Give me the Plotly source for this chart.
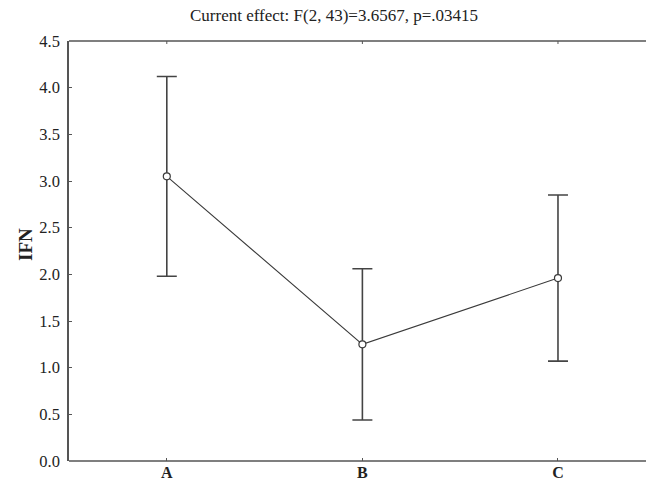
import plotly.graph_objects as go

# Group means of IFN with their error-bar half widths
groups = ["A", "B", "C"]
ifn_mean = [3.05, 1.25, 1.96]
ifn_err = [1.07, 0.81, 0.89]
y_ticks = [0.0, 0.5, 1.0, 1.5, 2.0, 2.5, 3.0, 3.5, 4.0, 4.5]

serif = "Liberation Serif, Times New Roman, serif"
axis_col = "#555555"
x_pos = list(range(len(groups)))

fig = go.Figure()
fig.add_trace(go.Scatter(
    x=x_pos,
    y=ifn_mean,
    mode="lines+markers",
    line=dict(color="#3a3a3a", width=1.1),
    marker=dict(symbol="circle", size=7, color="white",
                line=dict(color="#3a3a3a", width=1.2)),
    error_y=dict(type="data", array=ifn_err, visible=True,
                 color="#444444", thickness=1.6, width=10),
    showlegend=False,
))

# frame: bottom and top lines running off the right edge of the figure
frame = [
    dict(type="line", xref="paper", yref="paper", x0=0, x1=1.05, y0=yy, y1=yy,
         line=dict(color=axis_col, width=1.5), layer="above")
    for yy in (0, 1)
]
# inward ticks on the top edge, one per group
top_ticks = [
    dict(type="line", xref="x", yref="paper", x0=xp, x1=xp, y0=1, y1=1 - 3 / 420,
         line=dict(color=axis_col, width=1), layer="above")
    for xp in x_pos
]

fig.update_layout(
    width=646, height=488,
    margin=dict(l=69, r=0, t=41, b=27, pad=0),
    paper_bgcolor="white", plot_bgcolor="white",
    font=dict(family=serif, color="#222222", size=14),
    title=dict(text="Current effect: F(2, 43)=3.6567, p=.03415",
               font=dict(family=serif, size=17, color="#222222"),
               x=334 / 646, xanchor="center", y=1 - 15 / 488, yanchor="middle",
               xref="container", yref="container"),
    xaxis=dict(
        range=[-0.5, 2.45],
        tickvals=x_pos,
        ticktext=[f"<b>{g}</b>" for g in groups],
        ticks="inside", ticklen=3, tickcolor=axis_col, tickwidth=1,
        showline=False, mirror=False,
        showgrid=False, zeroline=False,
        tickfont=dict(family=serif, size=16, color="#222222"),
    ),
    yaxis=dict(
        range=[0, 4.5],
        tickvals=y_ticks,
        ticktext=[f"{v:.1f}" for v in y_ticks],
        ticks="inside", ticklen=3, tickcolor=axis_col, tickwidth=1,
        showline=True, linecolor=axis_col, linewidth=1.5, mirror=False,
        showgrid=False, zeroline=False,
        tickfont=dict(family=serif, size=16.5, color="#222222"),
        ticklabelstandoff=4,
    ),
    shapes=frame + top_ticks,
    annotations=[dict(
        text="<b>IFN</b>", textangle=-90,
        xref="paper", yref="paper",
        x=-(69 - 25) / 577, y=(461 - 245) / 420,
        xanchor="center", yanchor="middle", showarrow=False,
        font=dict(family=serif, size=19, color="#222222"),
    )],
)

fig.write_html("out.html")
